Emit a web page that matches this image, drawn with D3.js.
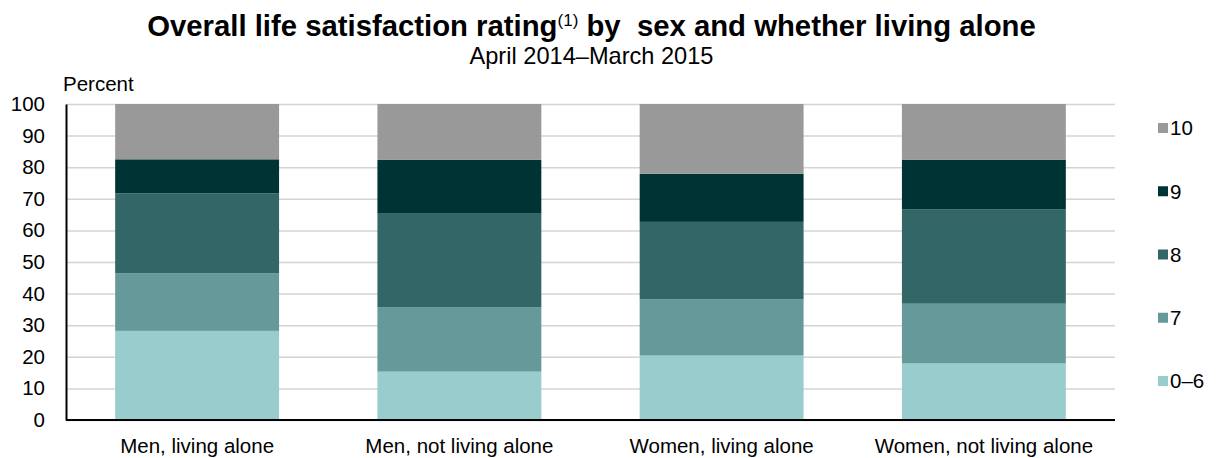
<!DOCTYPE html>
<html>
<head>
<meta charset="utf-8">
<script src="https://cdn.jsdelivr.net/npm/d3@7"></script>
<style>
  html, body { margin: 0; padding: 0; background: #fff; }
  svg { display: block; font-family: "Liberation Sans", Arial, sans-serif; }
</style>
</head>
<body>
<svg id="chart" width="1219" height="458"></svg>
<script>
// ---- Data ----
const categories = ["Men, living alone", "Men, not living alone", "Women, living alone", "Women, not living alone"];
const seriesNames = ["0\u20136", "7", "8", "9", "10"];
const rating0to6 = [28.2, 15.3, 20.4, 17.9];
const rating7    = [18.2, 20.4, 17.8, 18.9];
const rating8    = [25.3, 29.6, 24.5, 29.8];
const rating9    = [10.8, 17.0, 15.2, 15.7];
const rating10   = [17.5, 17.7, 22.1, 17.7];
const yTicks = [0, 10, 20, 30, 40, 50, 60, 70, 80, 90, 100];
const colors = ["#99cccc", "#669999", "#336666", "#003333", "#999999"];

const seriesValues = [rating0to6, rating7, rating8, rating9, rating10];
const rows = categories.map((c, i) => {
  const r = { category: c };
  seriesNames.forEach((s, j) => r[s] = seriesValues[j][i]);
  return r;
});

// ---- Layout ----
const svg = d3.select("#chart");
const plotLeft = 66, plotRight = 1115, plotTop = 104, plotBottom = 420;

const x = d3.scaleBand().domain(categories).range([plotLeft, plotRight])
  .paddingInner(0.375).paddingOuter(0.1875);
const y = d3.scaleLinear().domain([0, 100]).range([plotBottom, plotTop]);
const color = d3.scaleOrdinal().domain(seriesNames).range(colors);

// Gridlines
svg.append("g")
  .attr("transform", `translate(${plotLeft},0)`)
  .call(d3.axisLeft(y).tickValues(yTicks).tickSize(-(plotRight - plotLeft)).tickFormat(""))
  .call(g => g.select(".domain").remove())
  .call(g => g.selectAll("line").attr("stroke", "#d4d4d4").attr("stroke-width", 1.5));

// Bars
const stacked = d3.stack().keys(seriesNames)(rows);
svg.append("g").selectAll("g")
  .data(stacked).join("g")
  .attr("fill", d => color(d.key))
  .selectAll("rect")
  .data(d => d).join("rect")
  .attr("x", d => x(d.data.category))
  .attr("width", x.bandwidth())
  .attr("y", d => y(d[1]))
  .attr("height", d => y(d[0]) - y(d[1]));

// Y axis
const yAxis = svg.append("g")
  .attr("transform", `translate(${plotLeft},0)`)
  .call(d3.axisLeft(y).tickValues(yTicks).tickSize(0).tickPadding(21));
yAxis.select(".domain").attr("stroke", "#000").attr("stroke-width", 2);
yAxis.selectAll("text").attr("font-size", 20.5).attr("fill", "#000")
  .attr("font-family", "Liberation Sans, Arial, sans-serif");

// X axis
const xAxis = svg.append("g")
  .attr("transform", `translate(0,${plotBottom})`)
  .call(d3.axisBottom(x).tickSize(0).tickPadding(18));
xAxis.select(".domain").attr("stroke", "#000").attr("stroke-width", 2)
  .attr("d", `M${plotLeft},0H${plotRight}`);
xAxis.selectAll("text").attr("font-size", 20.5).attr("fill", "#000")
  .attr("font-family", "Liberation Sans, Arial, sans-serif");

// Y axis title
svg.append("text").attr("x", 63).attr("y", 91)
  .attr("font-size", 20.5).attr("fill", "#000").text("Percent");

// Title
const title = svg.append("text")
  .attr("x", 591.5).attr("y", 36)
  .attr("text-anchor", "middle")
  .attr("font-size", 29.3).attr("font-weight", "bold").attr("fill", "#000")
  .style("white-space", "pre");
title.append("tspan").text("Overall life satisfaction rating");
title.append("tspan").attr("font-size", 17).attr("font-weight", "normal").attr("dy", -10).text("(1)");
title.append("tspan").attr("dy", 10).text(" by  sex and whether living alone");

svg.append("text")
  .attr("x", 591.5).attr("y", 64)
  .attr("text-anchor", "middle")
  .attr("font-size", 23.6).attr("fill", "#000")
  .text("April 2014\u2013March 2015");

// Legend (top to bottom: 10, 9, 8, 7, 0–6)
const legendOrder = seriesNames.slice().reverse();
const ly = d3.scalePoint().domain(legendOrder).range([128, 381]);
const legend = svg.append("g").selectAll("g")
  .data(legendOrder).join("g")
  .attr("transform", d => `translate(1158,${ly(d)})`);
legend.append("rect").attr("x", 0).attr("y", -5).attr("width", 10).attr("height", 10)
  .attr("fill", d => color(d));
legend.append("text").attr("x", 12).attr("y", 0).attr("dy", "0.36em")
  .attr("font-size", 20.5).attr("fill", "#000").text(d => d);
</script>
</body>
</html>
